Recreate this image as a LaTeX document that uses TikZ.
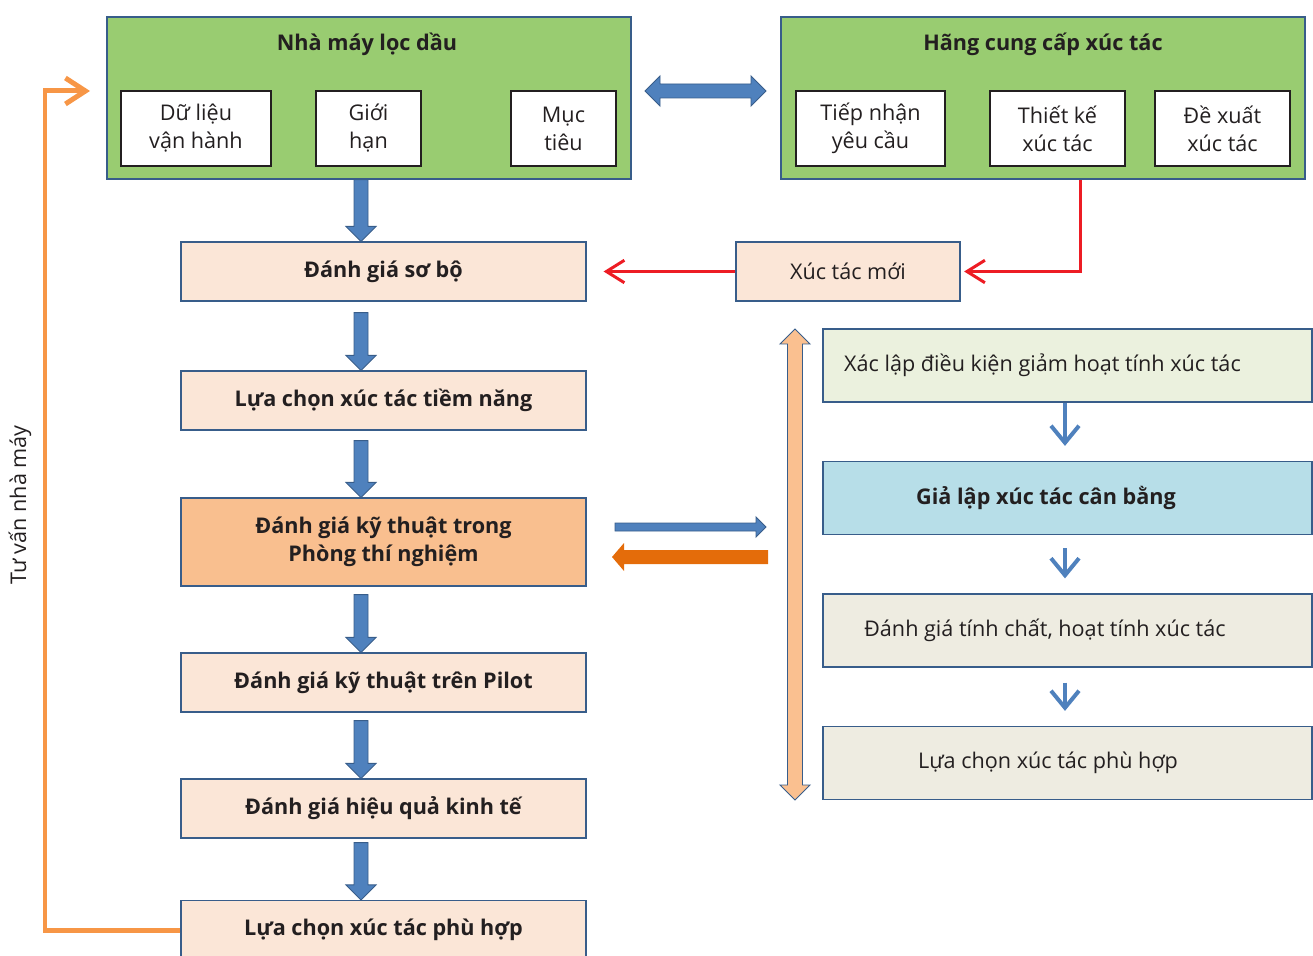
\documentclass[tikz,border=0pt]{standalone}
\usepackage{fontspec}
\setmainfont{Open Sans}
\usetikzlibrary{arrows.meta}
\usetikzlibrary{calc}
\usetikzlibrary{positioning}

\definecolor{boxline}{HTML}{385D8A}
\definecolor{plantgreen}{HTML}{99CC71}
\definecolor{peach}{HTML}{FBE6D7}
\definecolor{labfill}{HTML}{F9BF8F}
\definecolor{setupfill}{HTML}{EBF1DE}
\definecolor{simfill}{HTML}{B7DEE8}
\definecolor{greyfill}{HTML}{EEECE1}
\definecolor{arrowblue}{HTML}{4F81BD}
\definecolor{arroworange}{HTML}{E46C0A}
\definecolor{feedorange}{HTML}{F79646}
\definecolor{palearrow}{HTML}{FAC090}
\definecolor{newred}{HTML}{ED1C24}
\definecolor{ink}{HTML}{231F20}

% block arrow going down between two boxes of the left column
\newcommand{\blockdown}[3]{%
  \draw[blockarrow] ($(#1.south -| ax)+(-7,#3)$) -- ($(#2.north -| ax)+(-7,-15)$) -- ++(-8,0)
    -- (#2.north -| ax) -- ++(15,-15) -- ++(-8,0) -- ($(#1.south -| ax)+(7,#3)$) -- cycle;}

\begin{document}
\fontsize{12.3}{16}\selectfont
\begin{tikzpicture}[x=0.02cm,y=-0.02cm,text=ink,
	stepbox/.style={draw=boxline,line width=0.7pt,fill=peach,minimum width=8.1cm,minimum height=1.18cm,align=center,font=\bfseries},
	whitebox/.style={draw=ink,line width=0.7pt,fill=white,minimum height=1.5cm,align=center},
	groupbox/.style={draw=boxline,line width=0.7pt,fill=plantgreen,minimum width=10.48cm,minimum height=3.24cm},
	testbox/.style={draw=boxline,line width=0.7pt,minimum width=9.78cm,minimum height=1.46cm},
	blockarrow/.style={draw=boxline,line width=0.5pt,fill=arrowblue},
	thinblue/.style={draw=arrowblue,line width=0.08cm,-{Straight Barb[length=0.34cm,width=0.56cm]},shorten >=0.3cm},
	redline/.style={draw=newred,line width=0.06cm,-{Straight Barb[length=0.36cm,width=0.45cm]}},
	feedline/.style={draw=feedorange,line width=0.1cm,-{Straight Barb[length=0.4cm,width=0.52cm]}}]
		\useasboundingbox (0,0) rectangle (1313,956);
		\coordinate (ax) at (361,0);
		\coordinate (redx) at (1080,0);

		% refinery and supplier
		\node[groupbox] (plant) at (369,98) {};
		\node[font=\bfseries] (plantname) at (367,44) {Nhà máy lọc dầu};
		\node[whitebox,minimum width=3cm] (data) at (196,128.5) {Dữ liệu\\vận hành};
		\node[whitebox,minimum width=2.1cm] (limit) at (368.5,128.5) {Giới\\hạn};
		\node[whitebox,minimum width=2.1cm] (goal) at (563.5,128.5) {Mục\\tiêu};
		\node[groupbox] (supplier) at (1043,98) {};
		\node[font=\bfseries] (suppliername) at (1043,44) {Hãng cung cấp xúc tác};
		\node[whitebox,minimum width=2.98cm] (request) at (870.5,128.5) {Tiếp nhận\\yêu cầu};
		\node[whitebox,minimum width=2.7cm] (design) at (1057.5,128.5) {Thiết kế\\xúc tác};
		\node[whitebox,minimum width=2.7cm] (offer) at (1222.5,128.5) {Đề xuất\\xúc tác};
		\draw[blockarrow] (645,91) -- (660,76) -- (660,84) -- (751,84) -- (751,76) -- (766,91)
			-- (751,106) -- (751,98) -- (660,98) -- (660,106) -- cycle;

		% left column
		\node[stepbox] (early) at (383.5,271.5) {Đánh giá sơ bộ};
		\node[stepbox] (shortlist) at (383.5,400.5) {Lựa chọn xúc tác tiềm năng};
		\node[stepbox,fill=labfill,minimum height=1.76cm] (lab) at (383.5,542) {Đánh giá kỹ thuật trong\\Phòng thí nghiệm};
		\node[stepbox] (pilot) at (383.5,682.5) {Đánh giá kỹ thuật trên Pilot};
		\node[stepbox] (econ) at (383.5,808.5) {Đánh giá hiệu quả kinh tế};
		\node[stepbox] (final) at (383.5,930) {Lựa chọn xúc tác phù hợp};
		\blockdown{plant}{early}{0}
		\blockdown{early}{shortlist}{11}
		\blockdown{shortlist}{lab}{10}
		\blockdown{lab}{pilot}{8}
		\blockdown{pilot}{econ}{8}
		\blockdown{econ}{final}{4}

		% new catalyst
		\node[stepbox,font=\normalfont,minimum width=4.48cm] (newcat) at (848,271.5) {Xúc tác mới};
		\draw[redline,shorten >=0.34cm] (newcat.west) -- (early.east);
		\draw[redline,shorten >=2] (supplier.south -| redx) |- (newcat.east);

		% right column
		\node[testbox,fill=setupfill,label={[xshift=-0.5cm]center:Xác lập điều kiện giảm hoạt tính xúc tác}] (setup) at (1067.5,365.5) {};
		\node[testbox,fill=simfill,label={[xshift=-0.43cm,font=\bfseries]center:Giả lập xúc tác cân bằng}] (sim) at (1067.5,498) {};
		\node[testbox,fill=greyfill,label={[xshift=-0.45cm]center:Đánh giá tính chất, hoạt tính xúc tác}] (props) at (1067.5,630.5) {};
		\node[testbox,fill=greyfill,label={[xshift=-0.39cm]center:Lựa chọn xúc tác phù hợp}] (pick) at (1067.5,763) {};
		\draw[thinblue] ($(setup.south)+(-2.5,0)$) -- ($(sim.north)+(-2.5,0)$);
		\draw[thinblue] ($(sim.south)+(-2.5,13)$) -- ($(props.north)+(-2.5,0)$);
		\draw[thinblue] ($(props.south)+(-2.5,15)$) -- ($(pick.north)+(-2.5,0)$);
		\draw[draw=boxline,line width=0.5pt,fill=palearrow] (795,329) -- (810,344) -- (802.5,344) -- (802.5,785)
			-- (810,785) -- (795,800) -- (780,785) -- (787.5,785) -- (787.5,344) -- (780,344) -- cycle;
		\draw[blockarrow] (615,523) -- (756,523) -- (756,517) -- (766,527) -- (756,537) -- (756,531) -- (615,531) -- cycle;
		\fill[arroworange] (768,550) -- (624,550) -- (624,543) -- (612,557) -- (624,571) -- (624,564) -- (768,564) -- cycle;

		% advice back to the refinery
		\coordinate (fbcorner) at (45,91);
		\coordinate (fbend) at (90,91);
		\draw[feedline] (final.west) -| (fbcorner) -- (fbend);
		\node[rotate=90] (advice) at (20,505) {Tư vấn nhà máy};
	\end{tikzpicture}
\end{document}
